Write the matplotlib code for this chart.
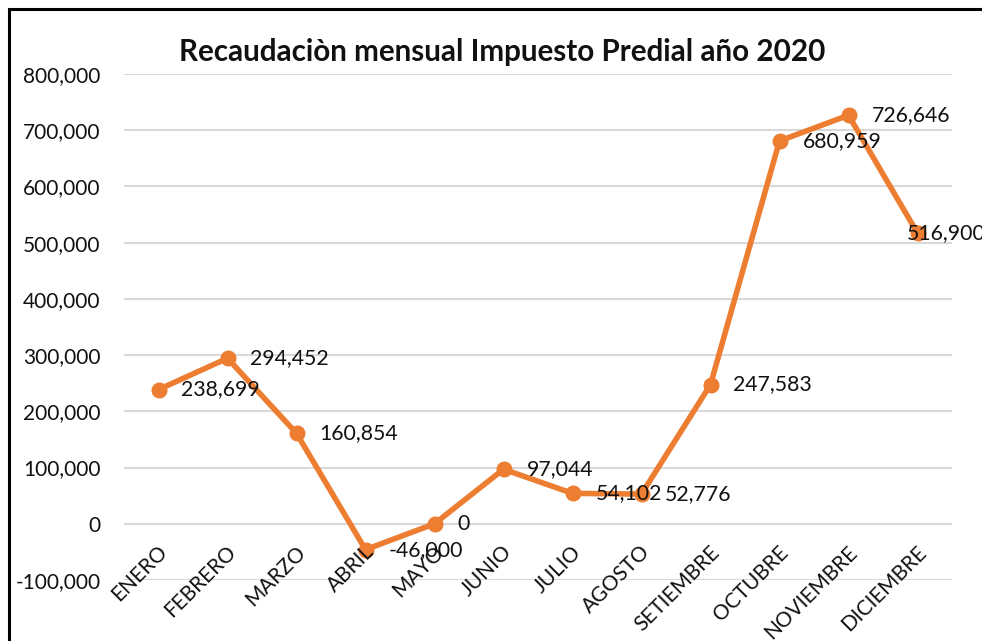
import numpy as np
import matplotlib.pyplot as plt
from matplotlib.patches import Rectangle
from matplotlib.ticker import FuncFormatter

meses = ["ENERO", "FEBRERO", "MARZO", "ABRIL", "MAYO", "JUNIO", "JULIO",
         "AGOSTO", "SETIEMBRE", "OCTUBRE", "NOVIEMBRE", "DICIEMBRE"]
recaudacion = [238699, 294452, 160854, -46000, 0, 97044, 54102,
               52776, 247583, 680959, 726646, 516900]
y_ticks = [-100000, 0, 100000, 200000, 300000, 400000, 500000, 600000, 700000, 800000]

plt.rcParams['font.family'] = ['Lato', 'DejaVu Sans']
naranja = '#ED7D31'

fig = plt.figure(figsize=(9.82, 6.41), dpi=100)
ax = fig.add_axes([124 / 982, 1 - 580 / 641, 828 / 982, 506 / 641])

x = np.arange(len(meses))
ax.plot(x, recaudacion, color=naranja, linewidth=4, marker='o', markersize=10.5,
        solid_joinstyle='round', zorder=3)

# etiquetas de datos a la derecha de cada punto
for i, v in enumerate(recaudacion):
    dx = -8 if i == len(meses) - 1 else 16.5
    ax.annotate(f"{v:,}", (i, v), xytext=(dx, 0), textcoords='offset points',
                ha='left', va='center', fontsize=15.3, color='#111111', zorder=4,
                annotation_clip=False)

# nombres de meses rotados junto al eje 0
for i, m in enumerate(meses):
    ax.annotate(m, (i, 0), xytext=(-1, -13), textcoords='offset points',
                ha='right', va='top', rotation=45, rotation_mode='anchor',
                fontsize=15, color='#111111', annotation_clip=False)

ax.set_xlim(-0.5, len(meses) - 0.5)
ax.set_ylim(-100000, 800000)
ax.set_yticks(y_ticks)
ax.yaxis.set_major_formatter(FuncFormatter(lambda v, p: f"{int(v):,}"))
ax.set_xticks([])
ax.tick_params(axis='y', length=0, pad=17, labelsize=15, labelcolor='#111111')
ax.grid(axis='y', color='#D9D9D9', linewidth=1.5)
ax.set_axisbelow(True)
for s in ax.spines.values():
    s.set_visible(False)

fig.text(502 / 982, 1 - 52 / 641, "Recaudaciòn mensual Impuesto Predial año 2020",
         ha='center', va='center', fontsize=21.3, fontweight='bold', color='#111111')

# marco del gráfico
fig.patches.append(Rectangle((9 / 982, -0.1), 1.2, 1.1 - 9 / 641, transform=fig.transFigure,
                             fill=False, edgecolor='black', linewidth=2.2))

fig.savefig("out.png", dpi=100)
